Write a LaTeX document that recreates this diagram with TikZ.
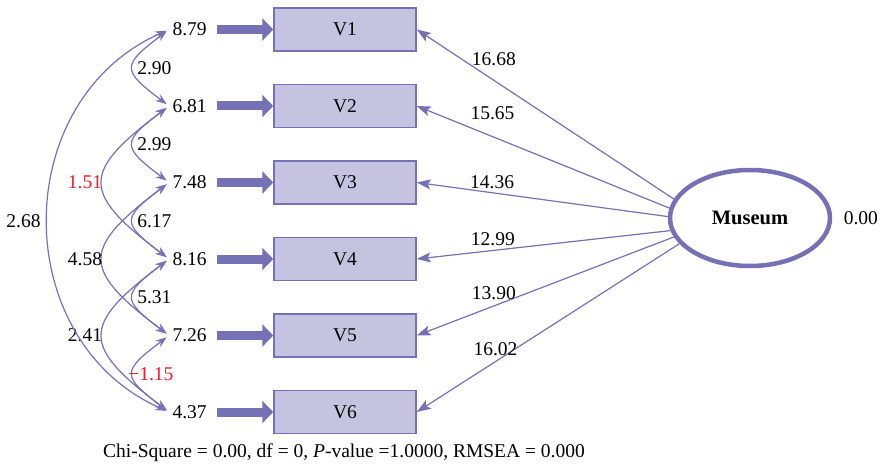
\documentclass[tikz,border=0pt]{standalone}
\usepackage{fontspec}
\setmainfont{Liberation Serif}
\usetikzlibrary{arrows.meta,positioning,shapes.geometric}
\definecolor{pathblue}{RGB}{118,112,182}
\definecolor{boxfill}{RGB}{198,195,225}
\definecolor{negred}{RGB}{232,30,40}

\begin{document}
\begin{tikzpicture}[x=1pt, y=1pt, >={Stealth[length=11pt,width=8pt]}, node distance=32pt and 63pt,
    every node/.style={font=\fontsize{19.5}{23}\selectfont, text=black},
    obs/.style={draw=pathblue, line width=1.5pt, fill=boxfill, minimum width=142pt, minimum height=43pt, inner sep=0pt},
    latent/.style={ellipse, draw=pathblue, line width=4.5pt, minimum width=160pt, minimum height=96pt, font=\fontsize{20.5}{24}\selectfont\bfseries},
    errarr/.style={-{Triangle[length=11pt,width=22pt]}, pathblue, line width=9pt, shorten <=7pt},
    load/.style={-{Stealth[length=14pt,width=10pt,inset=3pt]}, pathblue, line width=1.2pt},
    cov/.style={<->, pathblue, line width=1.2pt, shorten <=3pt, shorten >=3pt}]
    \useasboundingbox (0,0) rectangle (881,467);
    \node[obs] (v1) at (345,437.5) {V1};
    \node[obs, below=of v1] (v2) {V2};
    \node[obs, below=of v2] (v3) {V3};
    \node[obs, below=of v3] (v4) {V4};
    \node[obs, below=of v4] (v5) {V5};
    \node[obs, below=of v5] (v6) {V6};
    \node[left=of v1] (e1) {8.79};
    \node[left=of v2] (e2) {6.81};
    \node[left=of v3] (e3) {7.48};
    \node[left=of v4] (e4) {8.16};
    \node[left=of v5] (e5) {7.26};
    \node[left=of v6] (e6) {4.37};
    \node[latent] (m) at (750,249) {Museum};
    \node[right=8pt of m] (mvar) {0.00};
    \node (stats) at (344,14) {Chi-Square = 0.00, df = 0, \textit{P}-value =1.0000, RMSEA = 0.000};
    \path[errarr]
        (e1) edge (v1)
        (e2) edge (v2)
        (e3) edge (v3)
        (e4) edge (v4)
        (e5) edge (v5)
        (e6) edge (v6);
    \path[load]
        (m.166) edge node[pos=0.7, above=10.5pt] {16.68} (v1.east)
        (m.173) edge node[pos=0.7, above=12.5pt] {15.65} (v2.east)
        (m.179) edge node[pos=0.7, above=0pt] {14.36} (v3.east)
        (m.189) edge node[pos=0.7, above=1pt] {12.99} (v4.east)
        (m.194) edge node[pos=0.7, above=2pt] {13.90} (v5.east)
        (m.200) edge node[pos=0.7, above=2pt] {16.02} (v6.east);
    \path[cov]
        (e1.west) edge[out=217, in=143, looseness=2] node[right] {2.90} (e2.west)
        (e2.west) edge[out=217, in=143, looseness=2] node[right] {2.99} (e3.west)
        (e3.west) edge[out=217, in=143, looseness=2] node[right] {6.17} (e4.west)
        (e4.west) edge[out=217, in=143, looseness=2] node[right] {5.31} (e5.west)
        (e5.west) edge[out=217, in=143, looseness=2] node[right=-9pt, text=negred] {−1.15} (e6.west)
        (e2.west) edge[out=217, in=143, looseness=1.85] node[left=-3pt, text=negred] {1.51} (e4.west)
        (e3.west) edge[out=217, in=143, looseness=1.85] node[left=-3pt] {4.58} (e5.west)
        (e4.west) edge[out=217, in=143, looseness=1.85] node[left=-3pt] {2.41} (e6.west)
        (e1.west) edge[out=204, in=156, looseness=1.18] node[left=4pt] {2.68} (e6.west);
\end{tikzpicture}
\end{document}
